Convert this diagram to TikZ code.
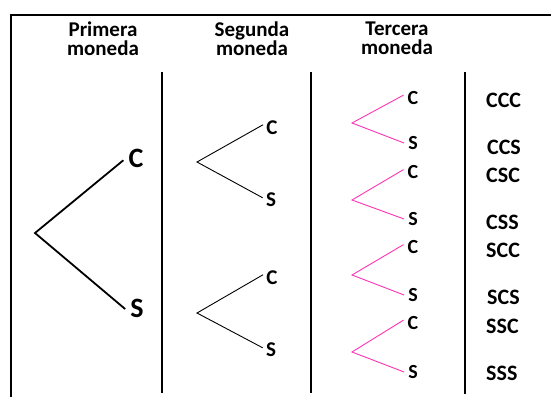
\documentclass[tikz,border=0pt]{standalone}
\usepackage{fontspec}
\setmainfont{Carlito}
\definecolor{rosa}{RGB}{255,51,180}
\begin{document}
\begin{tikzpicture}[x=1pt,y=-1pt,
  hdr/.style={font=\bfseries\fontsize{21}{19}\selectfont, align=center, anchor=north, inner sep=0pt},
  lone/.style={font=\bfseries\fontsize{28}{28}\selectfont, inner sep=5pt},
  ltwo/.style={font=\bfseries\fontsize{21}{21}\selectfont, inner sep=3.2pt},
  lthree/.style={font=\bfseries\fontsize{20}{20}\selectfont, inner sep=4pt},
  res/.style={font=\bfseries\fontsize{22}{22}\selectfont, anchor=west, inner sep=0pt},
  sepline/.style={line width=2.4pt},
  bone/.style={line width=1.8pt},
  btwo/.style={line width=0.9pt},
  bthree/.style={line width=0.9pt, draw=rosa}]
\useasboundingbox (0,0) rectangle (551,397);
% frame
\draw[sepline, line join=miter] (551,15) -- (11,15) -- (11,397);
% separators
\draw[sepline] (162,72) -- (162,393);
\draw[sepline] (311,72) -- (311,393);
\draw[sepline] (465,72) -- (465,394);
% headers
\node[hdr] (h1) at (103,22) {Primera\\moneda};
\node[hdr] (h2) at (252,22) {Segunda\\moneda};
\node[hdr] (h3) at (397,22) {Tercera\\moneda};
% first coin
\coordinate (r1) at (35,233);
\node[lone] (c1) at (136,158) {C};
\node[lone] (s1) at (137,308) {S};
\draw[bone] (c1.190) -- (r1) -- (s1.185);
% second coin
\coordinate (r2a) at (197,162);
\node[ltwo] (c2a) at (272,128) {C};
\node[ltwo] (s2a) at (271,200) {S};
\draw[btwo] (c2a.160) -- (r2a) -- (s2a.165);
\coordinate (r2b) at (197,313);
\node[ltwo] (c2b) at (272,278) {C};
\node[ltwo] (s2b) at (271,350) {S};
\draw[btwo] (c2b.160) -- (r2b) -- (s2b.165);
% third coin
\foreach \i/\r/\c/\s in {1/123/98/143, 2/200/172.5/219, 3/275/247.5/295, 4/352/323/372}{
  \coordinate (r3\i) at (352,\r);
  \node[lthree] (c3\i) at (413,\c) {C};
  \node[lthree] (s3\i) at (413,\s) {S};
  \draw[bthree] (c3\i.163) -- (r3\i) -- (s3\i.180);
}
% results
\node[res] (o1) at (486,100) {CCC};
\node[res] (o2) at (487,147.5) {CCS};
\node[res] (o3) at (486,175) {CSC};
\node[res] (o4) at (486,222.5) {CSS};
\node[res] (o5) at (486,250) {SCC};
\node[res] (o6) at (487,297.5) {SCS};
\node[res] (o7) at (486,326) {SSC};
\node[res] (o8) at (486,373.5) {SSS};
\end{tikzpicture}
\end{document}
